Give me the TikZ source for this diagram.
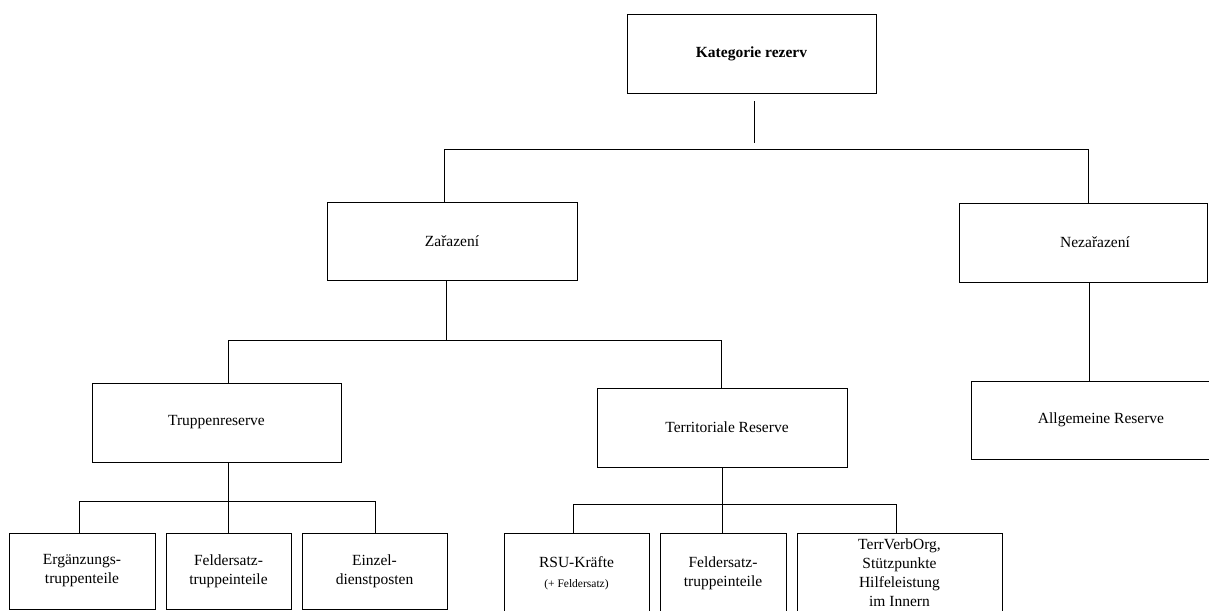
\documentclass[tikz,border=0pt]{standalone}
\usepackage{fontspec}
\setmainfont{Liberation Serif}
\usepackage{tikz}
\newcommand{\unitheight}{78pt}
\newcommand{\unitfont}{\fontsize{15.5}{19}\selectfont}
\tikzstyle{unit}=[draw, line width=1pt, inner sep=0, outer sep=0, minimum height=\unitheight, align=center, font=\unitfont]
\tikzstyle{subunit}=[unit, minimum height=76pt]
\tikzstyle{openunit}=[unit, minimum height=80pt]
\tikzstyle{link}=[line width=1pt]
\tikzstyle{orgchart}=[x=1pt, y=-1pt,
                      % Page of the same size as the reference.
                      execute at begin picture={\useasboundingbox (0, 0) rectangle (1209, 610); \clip (0, 0) rectangle (1209, 610);}]

\begin{document}
\begin{tikzpicture}[orgchart]
        \node[unit, minimum width=249pt]                     (kat)   at (751.5, 54)   {\textbf{Kategorie rezerv}};
        \node[unit, minimum width=250pt]                     (zar)   at (452, 241)    {Zařazení};
        \node[unit, minimum width=248pt, minimum height=79pt] (nez)   at (1083, 242.5) {\hspace*{24pt}Nezařazení};
        \node[unit, minimum width=249pt, minimum height=79pt] (trup)  at (216.5, 422.5) {Truppenreserve};
        \node[unit, minimum width=250pt, minimum height=79pt] (terr)  at (722, 427.5)  {\hspace*{10pt}Territoriale Reserve};
        \node[unit, minimum width=260pt]                     (allg)  at (1101, 420)   {Allgemeine Reserve};
        \node[subunit, minimum width=146pt]                  (erg)   at (82, 571)     {Ergänzungs-\\truppenteile};
        \node[subunit, minimum width=125pt]                  (feld1) at (228.5, 571)  {Feldersatz-\\truppeinteile};
        \node[subunit, minimum width=145pt]                  (einz)  at (374.5, 571)  {Einzel-\\dienstposten};
        \node[openunit, minimum width=145pt]                 (rsu)   at (576.5, 573)  {RSU-Kräfte\\[1pt]{\fontsize{11.5}{14}\selectfont (+ Feldersatz)}};
        \node[openunit, minimum width=126pt]                 (feld2) at (723, 573)    {Feldersatz-\\truppeinteile};
        \node[openunit, minimum width=205pt]                 (terrv) at (899.5, 573)  {TerrVerbOrg,\\Stützpunkte\\Hilfeleistung\\im Innern};
        \coordinate (k1)  at (754, 101);
        \coordinate (k2)  at (754, 143);
        \coordinate (b1L) at (444, 149);
        \coordinate (b1R) at (1088, 149);
        \coordinate (b2L) at (228, 340);
        \coordinate (b2R) at (721, 340);
        \coordinate (b3L) at (79, 501);
        \coordinate (b3R) at (375, 501);
        \coordinate (b4L) at (573, 504);
        \coordinate (b4R) at (896, 504);
        \draw[link] (k1) -- (k2);
        \draw[link] (zar.north -| b1L) -- (b1L) -- (b1R) -- (nez.north -| b1R);
        \draw[link] ([xshift=-6pt]zar.south) -- ([xshift=-6pt]zar.south |- b2L);
        \draw[link] (trup.north -| b2L) -- (b2L) -- (b2R) -- (terr.north -| b2R);
        \draw[link] ([xshift=6pt]nez.south) -- ([xshift=6pt]nez.south |- allg.north);
        \draw[link] (feld1.north |- trup.south) -- (feld1.north);
        \draw[link] (erg.north -| b3L) -- (b3L) -- (b3R) -- (einz.north -| b3R);
        \draw[link] (terr.south) -- (terr.south |- feld2.north);
        \draw[link] (rsu.north -| b4L) -- (b4L) -- (b4R) -- (terrv.north -| b4R);
    \end{tikzpicture}
\end{document}
